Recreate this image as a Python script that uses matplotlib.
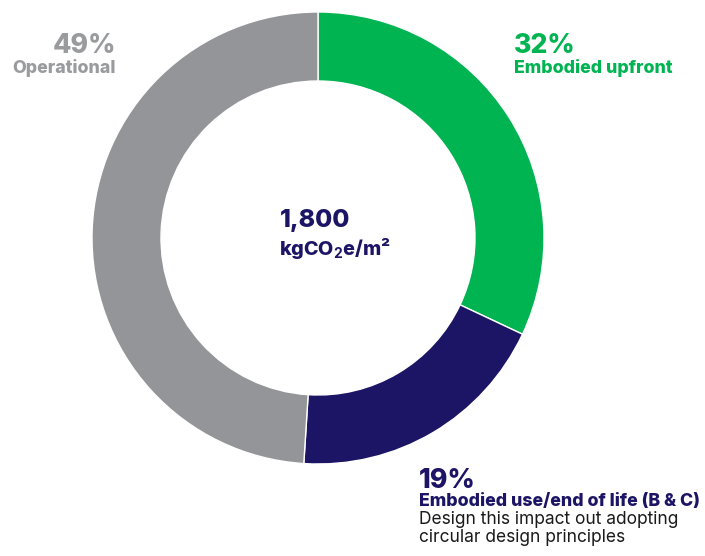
import matplotlib
matplotlib.use("Agg")
import matplotlib.pyplot as plt

labels = ["Embodied upfront", "Embodied use/end of life (B & C)", "Operational"]
values = [32, 19, 49]
pct_labels = ["32%", "19%", "49%"]
colors = ["#00b451", "#1c1464", "#939598"]
center_value = "1,800"
note_lines = ["Design this impact out adopting", "circular design principles"]

FONT = ['Inter', 'DejaVu Sans']
plt.rcParams['font.family'] = FONT
plt.rcParams['mathtext.fontset'] = 'custom'
plt.rcParams['mathtext.rm'] = 'Inter:bold'
plt.rcParams['mathtext.bf'] = 'Inter:bold'

W, H = 705, 556
fig = plt.figure(figsize=(W / 100, H / 100), dpi=100)
ax = fig.add_axes([0, 0, 1, 1])
ax.set_xlim(0, W)
ax.set_ylim(0, H)
ax.set_aspect('equal')
ax.axis('off')

def Y(py):
    return H - py

ax.pie(values, colors=colors, startangle=90, counterclock=False,
       center=(318, Y(238)), radius=226,
       wedgeprops=dict(width=69, edgecolor='white', linewidth=1.0))
ax.set_xlim(0, W)
ax.set_ylim(0, H)

gray_t = "#9a9b9e"
green_t = "#00b451"
navy_t = "#1c1464"

PCT = 19.2
LAB = 12.8
WT = 'heavy'

ax.text(116, Y(53), pct_labels[2], ha='right', va='baseline', fontsize=PCT,
        fontweight=WT, color=gray_t)
ax.text(116, Y(72.8), labels[2], ha='right', va='baseline', fontsize=LAB,
        fontweight=WT, color=gray_t)

ax.text(514, Y(53), pct_labels[0], ha='left', va='baseline', fontsize=PCT,
        fontweight=WT, color=green_t)
ax.text(514, Y(72.8), labels[0], ha='left', va='baseline', fontsize=LAB,
        fontweight=WT, color=green_t)

ax.text(419, Y(488), pct_labels[1], ha='left', va='baseline', fontsize=PCT,
        fontweight=WT, color=navy_t)
ax.text(419, Y(506.5), labels[1], ha='left', va='baseline', fontsize=LAB,
        fontweight=WT, color=navy_t)
ax.text(419, Y(523.5), note_lines[0], ha='left', va='baseline', fontsize=12.5,
        color="#1a1a1a")
ax.text(419, Y(541.5), note_lines[1], ha='left', va='baseline', fontsize=12.5,
        color="#1a1a1a")

ax.text(280, Y(227), center_value, ha='left', va='baseline', fontsize=17.8,
        fontweight=WT, color=navy_t)
ax.text(279, Y(255), r"kgCO$_2$e/m²", ha='left', va='baseline', fontsize=14.2,
        fontweight=WT, color=navy_t)

fig.savefig("out.png", dpi=100)
